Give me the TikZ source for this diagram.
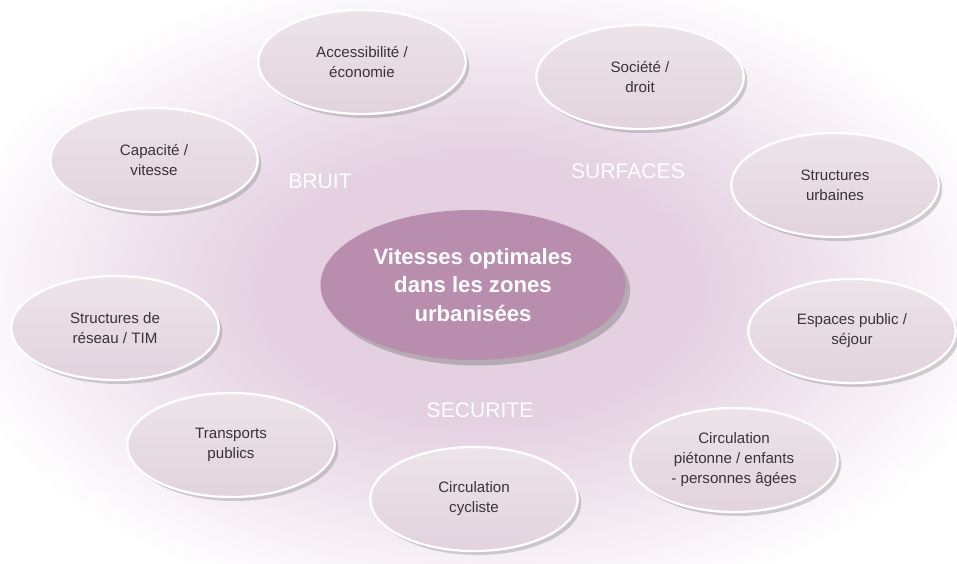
\documentclass[tikz,border=0pt]{standalone}
\usepackage{fontspec}
\setmainfont{Liberation Sans}
\usetikzlibrary{shapes.geometric,shadows}
\definecolor{glowpink}{HTML}{E4D0E1}
\definecolor{bubble}{HTML}{E2D3DD}
\definecolor{bubbletop}{HTML}{EDE4EA}
\definecolor{hub}{HTML}{B98DAE}
\definecolor{inktext}{HTML}{3A3338}
\pgfdeclareradialshading{halo}{\pgfpoint{0bp}{0bp}}{color(0bp)=(glowpink); color(10bp)=(glowpink); color(25bp)=(white); color(50bp)=(white)}
\tikzset{
  topic/.style={ellipse, draw=white, line width=1.3pt, top color=bubbletop, bottom color=bubble,
    minimum width=4.15cm, minimum height=2.08cm, inner sep=0pt, align=center, text=inktext,
    font=\fontsize{8.6}{11.4}\selectfont,
    drop shadow={opacity=0.35, shadow xshift=0.7mm, shadow yshift=-0.8mm}},
  hubbox/.style={ellipse, fill=hub, minimum width=6.1cm, minimum height=3.0cm, inner sep=0pt,
    align=center, text=white, font=\fontsize{12.6}{16.4}\selectfont\bfseries,
    drop shadow={opacity=0.45, shadow xshift=0.9mm, shadow yshift=-1.1mm}},
  theme/.style={text=white, font=\fontsize{12}{14}\selectfont}
}
\begin{document}
\begin{tikzpicture}[x=0.2mm, y=-0.2mm]
  \useasboundingbox (0,0) rectangle (957,564);
  \fill[white] (0,0) rectangle (957,564);
  % soft glow behind the bubbles
  \shade[shading=halo] (480,290) ellipse (540 and 330);
  \node[hubbox] (hub) at (473,285) {Vitesses optimales\\dans les zones\\urbanisées};
  \node[topic] (acc) at (362,62) {Accessibilité /\\économie};
  \node[topic] (soc) at (640,77) {Société /\\droit};
  \node[topic] (cap) at (154,160) {Capacité /\\vitesse};
  \node[topic] (urb) at (835,185) {Structures\\urbaines};
  \node[topic] (res) at (115,328) {Structures de\\réseau / TIM};
  \node[topic] (esp) at (852,331) {Espaces public /\\séjour};
  \node[topic] (tp) at (231,445) {Transports\\publics};
  \node[topic] (pie) at (734,460) {Circulation\\piétonne / enfants\\- personnes âgées};
  \node[topic] (cyc) at (474,499) {Circulation\\cycliste};
  \node[theme] (bruit) at (320,181) {BRUIT};
  \node[theme] (surf) at (628,171) {SURFACES};
  \node[theme] (secu) at (480,410) {SECURITE};
\end{tikzpicture}
\end{document}
